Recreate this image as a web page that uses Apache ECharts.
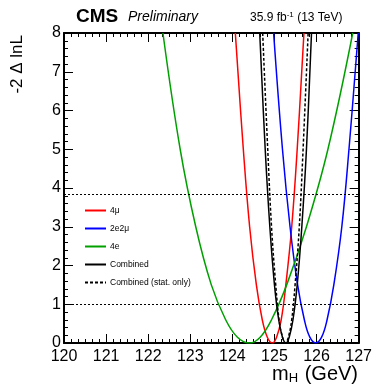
<!DOCTYPE html>
<html>
<head>
<meta charset="utf-8">
<script src="https://cdn.jsdelivr.net/npm/echarts@6/dist/echarts.min.js"></script>
<style>
  html, body { margin: 0; padding: 0; background: #fff; }
  #chart { width: 375px; height: 387px; }
</style>
</head>
<body>
<div id="chart"></div>
<script>
// scan points [mH, -2 dlnL]
const fourMu = [
  [124.07, 8], [124.26, 5], [124.41, 3], [124.57, 1.5], [124.71, 0.6], [124.83, 0.15], [124.95, 0],
  [125.05, 0.15], [125.16, 0.6], [125.27, 1.5], [125.41, 3], [125.54, 5], [125.70, 8],
]
const twoE2Mu = [
  [124.98, 8], [125.19, 5], [125.37, 3], [125.55, 1.5], [125.71, 0.6], [125.84, 0.15], [125.98, 0],
  [126.12, 0.15], [126.25, 0.6], [126.41, 1.5], [126.60, 3], [126.77, 5], [126.99, 8],
]
const fourE = [
  [122.35, 8], [122.76, 5], [123.13, 3], [123.50, 1.5], [123.84, 0.6], [124.12, 0.15], [124.41, 0],
  [124.66, 0.15], [124.93, 0.6], [125.29, 1.5], [125.76, 3], [126.27, 5], [126.86, 8],
]
const combined = [
  [124.65, 8], [124.78, 5], [124.89, 3], [125.00, 1.5], [125.10, 0.6], [125.19, 0.15], [125.27, 0],
  [125.35, 0.15], [125.44, 0.6], [125.54, 1.5], [125.65, 3], [125.76, 5], [125.88, 8],
]
const combinedStat = [
  [124.72, 8], [124.84, 5], [124.93, 3], [125.03, 1.5], [125.11, 0.6], [125.19, 0.15], [125.26, 0],
  [125.33, 0.15], [125.41, 0.6], [125.49, 1.5], [125.59, 3], [125.68, 5], [125.80, 8],
]
const refLevels = [1, 3.84]
const xTicks = [120, 121, 122, 123, 124, 125, 126, 127]
const yTicks = [0, 1, 2, 3, 4, 5, 6, 7, 8]

const FONT = '"Liberation Sans", Arial, Helvetica, sans-serif'

const chart = echarts.init(document.getElementById('chart'), null, { renderer: 'canvas' })

function curve(name, data, color, dashed) {
  return {
    name,
    type: 'line',
    data,
    smooth: 0.4,
    symbol: 'none',
    clip: true,
    animation: false,
    lineStyle: { color, width: 1.5, type: dashed ? [3, 2] : 'solid' },
    itemStyle: { color },
  }
}

const baseX = {
  type: 'value',
  min: xTicks[0],
  max: xTicks[xTicks.length - 1],
  interval: 1,
  splitLine: { show: false },
  axisLine: { onZero: false, lineStyle: { color: '#000', width: 2 } },
  axisTick: { inside: true, length: 9, lineStyle: { color: '#000', width: 1 } },
  minorTick: { show: true, splitNumber: 6, length: 4, lineStyle: { color: '#000', width: 1 } },
}
const baseY = {
  type: 'value',
  min: yTicks[0],
  max: yTicks[yTicks.length - 1],
  interval: 1,
  splitLine: { show: false },
  axisLine: { onZero: false, lineStyle: { color: '#000', width: 2 } },
  axisTick: { inside: true, length: 9, lineStyle: { color: '#000', width: 1 } },
  minorTick: { show: true, splitNumber: 5, length: 4, lineStyle: { color: '#000', width: 1 } },
}

const stat = curve('Combined (stat. only)', combinedStat, '#000', true)
stat.markLine = {
  silent: true,
  symbol: 'none',
  label: { show: false },
  lineStyle: { color: '#000', width: 1, type: [2, 2] },
  data: refLevels.map(v => ({ yAxis: v })),
}

chart.setOption({
  backgroundColor: '#fff',
  animation: false,
  textStyle: { fontFamily: FONT },
  grid: { left: 64, right: 16, top: 33, bottom: 44 },
  xAxis: [
    { ...baseX, position: 'bottom',
      axisLabel: { color: '#000', fontSize: 16, fontFamily: FONT, margin: 6 } },
    { ...baseX, position: 'top', axisLabel: { show: false } },
  ],
  yAxis: [
    { ...baseY, position: 'left',
      axisLabel: { color: '#000', fontSize: 16, fontFamily: FONT, margin: 3 } },
    { ...baseY, position: 'right', axisLabel: { show: false } },
  ],
  legend: {
    orient: 'vertical',
    left: 79,
    top: 201,
    itemWidth: 21,
    itemHeight: 10,
    itemGap: 9,
    itemStyle: { opacity: 0 },
    data: ['4μ', '2e2μ', '4e', 'Combined', 'Combined (stat. only)'],
    textStyle: { color: '#000', fontSize: 8.5, fontFamily: FONT, padding: [0, 0, 0, -1] },
  },
  graphic: [
    { type: 'text', left: 76, top: 7,
      style: { text: 'CMS', font: `bold 19px ${FONT}`, fill: '#000' } },
    { type: 'text', left: 128, top: 10,
      style: { text: 'Preliminary', font: `italic 14px ${FONT}`, fill: '#000' } },
    { type: 'text', left: 250, top: 11,
      style: {
        text: '35.9 fb{s|-1} (13 TeV)',
        font: `12px ${FONT}`, fill: '#000',
        rich: { s: { fontSize: 8, verticalAlign: 'top', padding: [0, 0, 5, 0] } },
      } },
    { type: 'text', x: 9, y: 35, rotation: Math.PI / 2,
      style: { text: '-2 Δ lnL', font: `17px ${FONT}`, fill: '#000', align: 'right', verticalAlign: 'top' } },
    { type: 'text', x: 358, y: 385,
      style: {
        text: 'm{h|H} (GeV)',
        font: `20px ${FONT}`, fill: '#000', align: 'right', verticalAlign: 'bottom',
        rich: { h: { fontSize: 13, padding: [9, 1, 0, 0] } },
      } },
  ],
  series: [
    curve('4μ', fourMu, '#ff0000', false),
    curve('2e2μ', twoE2Mu, '#0000ff', false),
    curve('4e', fourE, '#00a000', false),
    curve('Combined', combined, '#000', false),
    stat,
  ],
})
</script>
</body>
</html>
